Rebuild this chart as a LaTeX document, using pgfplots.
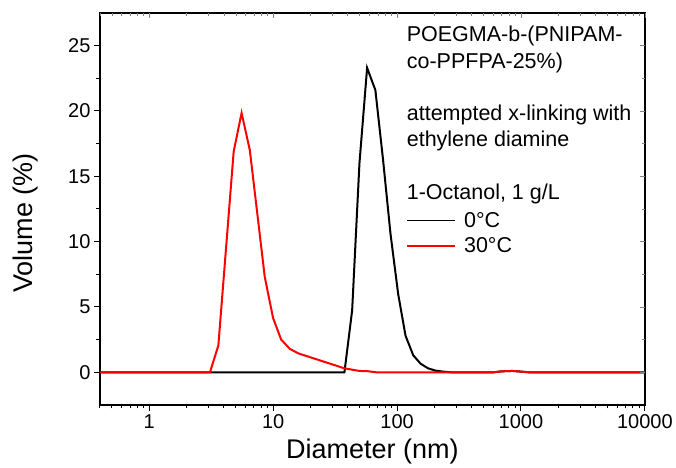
\documentclass[border=0pt]{standalone}
\usepackage{fontspec}
\setmainfont{Liberation Sans}
\usepackage{pgfplots}
\pgfplotsset{compat=1.18}
\begin{document}
\begin{tikzpicture}
\begin{axis}[name=ax,
  scale only axis,
  width=545pt, height=392pt,
  xmode=log, xmin=0.4, xmax=10000,
  ymin=-2.5, ymax=27.5,
  ytick={0,5,10,15,20,25},
  minor y tick num=1,
  log ticks with fixed point,
  /pgf/number format/1000 sep={},
  /pgf/number format/assume math mode=true,
  tick align=outside, xtick pos=left, ytick pos=left,
  major tick length=6pt, minor tick length=3.5pt,
  every tick/.style={line width=1pt, black},
  axis line style={line width=1.5pt},
  ticklabel style={font=\fontsize{20}{22}\selectfont},
  xlabel={Diameter (nm)}, ylabel={Volume (\%)},
  label style={font=\fontsize{27}{30}\selectfont},
  xlabel style={at={(rel axis cs:0.5,-0.12)}, anchor=center},
  ylabel style={at={(rel axis cs:-0.136,0.464)}, anchor=center},
  legend style={at={(rel axis cs:0.5625,0.497)}, anchor=north west, draw=none, fill=none,
    font=\fontsize{21.5}{24}\selectfont, row sep=5pt, column sep=6.7pt, inner sep=0pt,
    cells={anchor=west}},
  legend image code/.code={\draw[#1] (0pt,0pt) -- (47.3pt,0pt);},
  legend image post style={line width=1.4pt},
]
\addplot[black, line width=2pt] coordinates {
(0.4,0) (37.6,0) (43.4,4.75) (49.7,16.0) (57.3,23.3) (66.8,21.6) (77,16.3) (88.5,10.6)
(102,6.0) (117,2.8) (135,1.3) (155,0.65) (178,0.3) (205,0.12) (236,0.05) (271,0)
(600,0) (700,0.07) (850,0.1) (1000,0.05) (1150,0) (10000,0)
};
\addlegendentry{0°C}
\addplot[red, line width=2pt] coordinates {
(0.4,0) (3.09,0) (3.61,2.05) (4.8,16.9) (5.56,19.85) (6.48,17.0) (8.55,7.3) (9.98,4.15)
(11.6,2.5) (13.6,1.8) (15.9,1.45) (37.6,0.3) (49.7,0.1) (58,0.08) (67.6,0)
(600,0) (700,0.07) (850,0.1) (1000,0.05) (1150,0) (10000,0)
};
\addlegendentry{30°C}
\node[anchor=north west, align=left, inner sep=0pt, font=\fontsize{21.5}{26.2}\selectfont]
  at (rel axis cs:0.5628,0.9666)
  {POEGMA-b-(PNIPAM-\\co-PPFPA-25\%)\\[26.2pt]attempted x-linking with\\ethylene diamine\\[26.2pt]1-Octanol, 1 g/L};
\end{axis}
\begin{axis}[
  scale only axis,
  width=545pt, height=392pt,
  xmode=log, xmin=0.4, xmax=10000,
  ymin=-2.5, ymax=27.5,
  ytick={0,5,10,15,20,25},
  minor y tick num=1,
  tick align=inside, xtick pos=right, ytick pos=right,
  xticklabels={}, yticklabels={},
  major tick length=5pt, minor tick length=3pt,
  every tick/.style={line width=0.6pt, gray},
  axis line style={draw=none},
]
\end{axis}
\path ([xshift=-100pt,yshift=-63pt]ax.south west) rectangle ([xshift=31pt,yshift=13pt]ax.north east);
\end{tikzpicture}
\end{document}
